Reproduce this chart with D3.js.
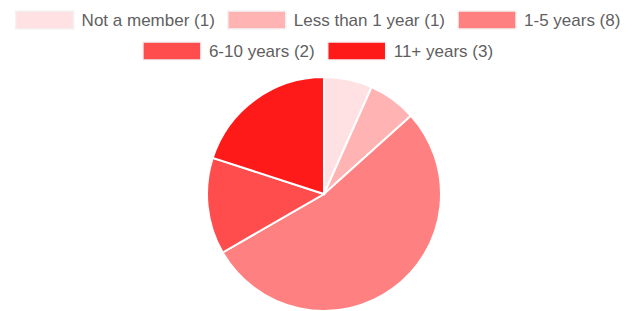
<!DOCTYPE html>
<html>
<head>
<meta charset="utf-8">
<script src="https://cdn.jsdelivr.net/npm/d3@7"></script>
<style>
  body { margin: 0; background: #fff; }
  svg { display: block; }
</style>
</head>
<body>
<script>
var categories = ["Not a member", "Less than 1 year", "1-5 years", "6-10 years", "11+ years"];
var counts = [1, 1, 8, 2, 3];
var colours = ["#ffe0e3", "#ffb3b3", "#ff8080", "#ff4d4d", "#ff1a1a"];

var width = 638, height = 311;

var svg = d3.select("body")
            .append("svg")
            .attr("width", width)
            .attr("height", height);

var data = categories.map(function(c, i) { return {name: c, value: counts[i], colour: colours[i]}; });

// legend, wrapped into centred rows
var swW = 58, swH = 18, swGap = 8, itemGap = 13, maxW = 625;
var legend = svg.append("g").attr("class", "legend");

var items = legend.selectAll(".item")
                  .data(data)
                  .enter().append("g")
                  .attr("class", "item");

items.append("rect")
     .attr("width", swW)
     .attr("height", swH)
     .attr("fill", function(d) { return d.colour; })
     .attr("stroke", "#f3f3f3")
     .attr("stroke-width", 1.5);

items.append("text")
     .attr("x", swW + swGap)
     .attr("y", swH / 2)
     .attr("dy", "0.35em")
     .style("font-family", "'Liberation Sans', Arial, sans-serif")
     .style("font-size", "17px")
     .style("fill", "#5f5f5f")
     .text(function(d) { return d.name + " (" + d.value + ")"; });

var rows = [[]], rowW = [0];
items.each(function(d) {
  var w = swW + swGap + this.querySelector("text").getComputedTextLength();
  var r = rows.length - 1;
  var add = (rows[r].length ? itemGap : 0) + w;
  if (rowW[r] + add > maxW && rows[r].length) {
    rows.push([]); rowW.push(0); r++; add = w;
  }
  rows[r].push({node: this, w: w});
  rowW[r] += add;
});

var rowY = [11, 42];
rows.forEach(function(row, r) {
  var x = 318 - rowW[r] / 2;
  row.forEach(function(it) {
    d3.select(it.node).attr("transform", "translate(" + x + "," + rowY[r] + ")");
    x += it.w + itemGap;
  });
});

// pie
var radius = 117;
var pie = d3.pie()
            .value(function(d) { return d.value; })
            .sort(null);

var arc = d3.arc()
            .innerRadius(0)
            .outerRadius(radius);

svg.append("g")
   .attr("transform", "translate(324,194)")
   .selectAll("path")
   .data(pie(data))
   .enter().append("path")
   .attr("d", arc)
   .attr("fill", function(d) { return d.data.colour; })
   .attr("stroke", "#fff")
   .attr("stroke-width", 2);
</script>
</body>
</html>
